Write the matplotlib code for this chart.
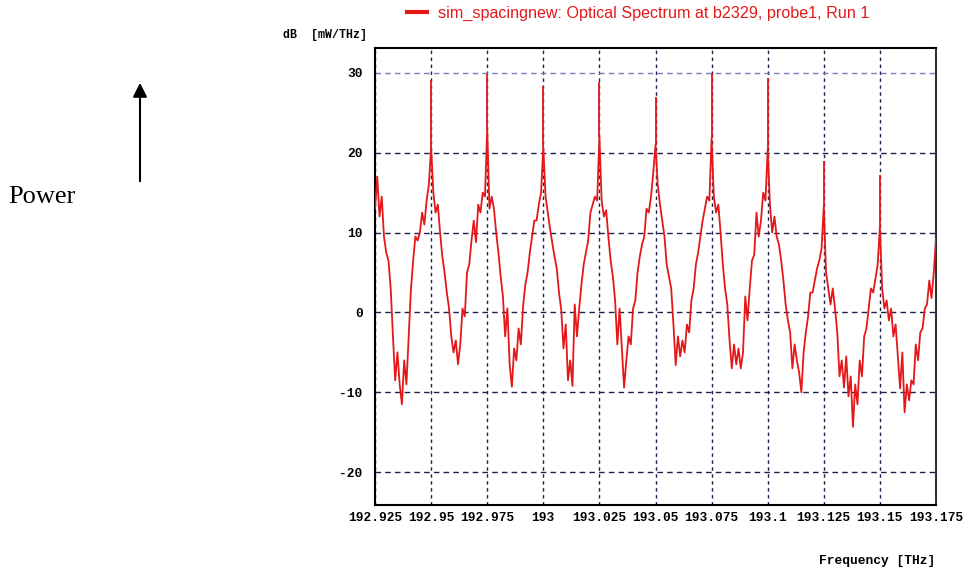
import numpy as np
import matplotlib
matplotlib.use("Agg")
import matplotlib.pyplot as plt

# ---------- data ----------
freq_start = 192.925
freq_stop = 193.175

# power in dB [mW/THz], one row per 0.025 THz channel slot, 1 GHz samples
power = [
    13, 17, 12, 14.5, 9.5, 7.5, 6.5, 3, -3, -8.5, -5, -9, -11.5, -6, -9, -3, 2.8, 6.5, 9.5, 9, 10, 12.5, 11, 14, 16,
    20.7, 15, 12.5, 13.5, 10, 7, 5, 2.5, 0.5, -3, -5, -3.5, -6.5, -4, 0.5, -0.5, 5, 6, 9, 11.5, 8.8, 13.5, 12.5, 15, 14.5,
    23, 13, 14.5, 13, 10, 7.5, 4.5, 2, -3, 0.5, -6.5, -9.3, -4.5, -6, -2, -4, 0.8, 3.5, 5, 7.5, 9.5, 11.5, 11.5, 13.5, 15,
    20.7, 14.5, 12.5, 10.5, 8.7, 7, 5.5, 2.5, 0.3, -4.5, -1.5, -8.5, -6, -9.2, 1, -3, 0.5, 3.5, 6, 7.5, 9, 12.5, 13.5, 14.5, 14,
    22, 14, 12, 12.8, 9.5, 6.5, 4.5, 1.5, -4, 0.5, -4.5, -9.4, -6, -3, -4, 0.5, 1.5, 5, 7, 8.5, 9.5, 13, 12.5, 14.5, 17.5,
    21, 16, 13.5, 11.5, 9.5, 6, 4.5, 3, -1.5, -6.6, -3, -5.5, -3.5, -5, -1.5, -2.5, 1.5, 3, 6, 7.5, 9.5, 11.5, 13, 14.5, 14,
    21.8, 14.5, 12.5, 13.5, 10, 6, 3, 1, -3.5, -7, -4, -6.5, -4.5, -7, -5, 2, -1, 3, 6.5, 7.2, 12.5, 9.5, 11.5, 15, 14,
    20.4, 13.5, 10, 12, 9.5, 8.5, 6.5, 4, 1, -1, -2.5, -7, -4, -6, -7.5, -10, -5, -2.5, -0.5, 2.5, 2.5, 4, 5.5, 6.5, 8,
    13.3, 5, 3, 1, 3, 0.5, -2.5, -8, -6, -9.4, -5.5, -10.5, -8, -14.3, -9, -11.5, -6, -8, -3, -2, 0.5, 3, 2.5, 4.2, 6,
    10.7, 3, 0.5, 1.5, -1, 0.5, -3, -1.5, -5.5, -9.5, -5, -12.5, -9, -11, -8.5, -9, -4, -6, -2.5, -2, 0.5, 1, 4, 1.8, 5, 9.2,
]

# narrow carrier lines on top of the spectrum
peak_freq = [192.95, 192.975, 193.0, 193.025, 193.05, 193.075, 193.1, 193.125, 193.15]
peak_top = [29.1, 29.8, 28.3, 28.9, 27.0, 30.0, 29.3, 19.0, 17.2]

xtick_labels = ["192.925", "192.95", "192.975", "193", "193.025", "193.05",
                "193.075", "193.1", "193.125", "193.15", "193.175"]
ytick_values = [-20, -10, 0, 10, 20, 30]

series_name = "sim_spacingnew: Optical Spectrum at b2329, probe1, Run 1"

# ---------- plot ----------
freq = np.linspace(freq_start, freq_stop, len(power))
red = "#e41818"
grid_col = "#20204e"
mono = "Liberation Mono"

fig = plt.figure(figsize=(9.64, 5.69), dpi=100)
ax = fig.add_axes([375 / 964, 1 - 505 / 569, (936 - 375) / 964, (505 - 48) / 569])

ax.plot(freq, power, color=red, lw=1.3, label=series_name, zorder=3)
base = np.interp(peak_freq, freq, power)
ax.vlines(peak_freq, base, peak_top, color=red, lw=1.3, zorder=3)

ax.set_xlim(freq_start, freq_stop)
ax.set_ylim(-24.1, 33.1)

ax.set_xticks([float(s) for s in xtick_labels])
ax.set_xticklabels(xtick_labels)
ax.set_yticks(ytick_values)
ax.set_yticklabels([str(v) for v in ytick_values])
for lab in ax.get_xticklabels() + ax.get_yticklabels():
    lab.set_fontfamily(mono)
    lab.set_fontsize(9.3)
    lab.set_fontweight("bold")
ax.tick_params(axis="x", length=0, pad=5)
ax.tick_params(axis="y", length=0, pad=9)

ax.grid(True, axis="y", color=grid_col, lw=1, linestyle=(0, (4, 3)))
ax.grid(True, axis="x", color=grid_col, lw=1, linestyle=(0, (2.5, 2.5)))
ax.yaxis.get_gridlines()[-1].set_color("#7c7cbc")

for side in ["left", "bottom", "top"]:
    ax.spines[side].set_color("black")
    ax.spines[side].set_linewidth(1.5)
ax.spines["right"].set_color("#333333")
ax.spines["right"].set_linewidth(1.5)

fig.text(283 / 964, 1 - 35 / 569, "dB  [mW/THz]", fontfamily=mono, fontsize=8.4,
         fontweight="bold", va="center", ha="left")
fig.text(935 / 964, 1 - 561 / 569, "Frequency [THz]", fontfamily=mono, fontsize=9.3,
         fontweight="bold", va="center", ha="right")

ax.legend(loc="center", bbox_to_anchor=(638 / 964, 1 - 13 / 569), bbox_transform=fig.transFigure,
          frameon=False, handlelength=1.25, handletextpad=0.7, labelcolor=red,
          prop={"family": "Liberation Sans", "size": 11.6})
ax.get_legend().get_lines()[0].set_linewidth(3)

# annotation on the left
fig.text(8 / 964, 1 - 197 / 569, "Power", fontfamily="Liberation Serif", fontsize=19,
         va="center", ha="left")
ax.annotate("", xy=(140 / 964, 1 - 80 / 569), xytext=(140 / 964, 1 - 184 / 569),
            xycoords="figure fraction", textcoords="figure fraction",
            arrowprops=dict(arrowstyle="-|>", color="black", lw=1.5, mutation_scale=21))

fig.savefig("out.png", dpi=100)
